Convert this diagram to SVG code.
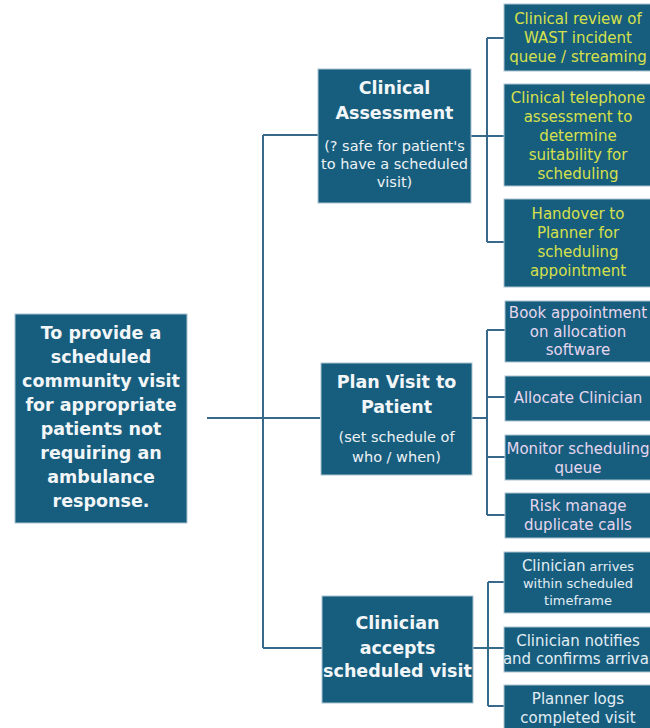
<svg xmlns="http://www.w3.org/2000/svg" width="650" height="728" viewBox="0 0 650 728">
<style>
.box{fill:#175e7e;stroke:#a9c3d3;stroke-width:1}
.ln{fill:none;stroke:#36698a;stroke-width:2}
text{font-family:"DejaVu Sans","Liberation Sans",sans-serif;text-anchor:middle}
.main{fill:#f3f6f8;font-weight:bold;font-size:17.5px}
.sub{fill:#eef2f5;font-size:14.5px}
.y{fill:#d6e04b;font-size:15px}
.p{fill:#e6d6ee;font-size:15px}
.w{fill:#e2edf4;font-size:15px}
.ws{fill:#e2edf4;font-size:13px}
</style>
<rect width="650" height="728" fill="#ffffff"/>
<g id="connectors">
<path class="ln" d="M207 418H320M263 135V648M263 135H318M263 648H322"/>
<path class="ln" d="M471 136H504M487 38V242M487 38H504M487 242H504"/>
<path class="ln" d="M472 418H487M487 330V515M487 330H505M487 397H505M487 457H505M487 515H505"/>
<path class="ln" d="M473 648H504M488 582V706M488 582H504M488 706H504"/>
</g>
<g id="root">
<rect class="box" x="15" y="314" width="172" height="209"/>
<text class="main"><tspan x="101" y="339">To provide a</tspan><tspan x="101" y="363">scheduled</tspan><tspan x="101" y="387">community visit</tspan><tspan x="101" y="411">for appropriate</tspan><tspan x="101" y="435">patients not</tspan><tspan x="101" y="459">requiring an</tspan><tspan x="101" y="483">ambulance</tspan><tspan x="101" y="507">response.</tspan></text>
</g>
<g id="clinical-assessment">
<rect class="box" x="318" y="69" width="153" height="134"/>
<text class="main"><tspan x="394.5" y="94">Clinical</tspan><tspan x="394.5" y="119">Assessment</tspan></text>
<text class="sub"><tspan x="394.5" y="151">(? safe for patient's</tspan><tspan x="394.5" y="169">to have a scheduled</tspan><tspan x="394.5" y="187">visit)</tspan></text>
</g>
<g id="plan-visit">
<rect class="box" x="321" y="363" width="151" height="112"/>
<text class="main"><tspan x="396.5" y="388">Plan Visit to</tspan><tspan x="396.5" y="413">Patient</tspan></text>
<text class="sub"><tspan x="396.5" y="442">(set schedule of</tspan><tspan x="396.5" y="462">who / when)</tspan></text>
</g>
<g id="clinician-accepts">
<rect class="box" x="322" y="596" width="151" height="107"/>
<text class="main"><tspan x="397.5" y="629">Clinician</tspan><tspan x="397.5" y="654">accepts</tspan><tspan x="397.5" y="677">scheduled visit</tspan></text>
</g>
<g id="clinical-review">
<rect class="box" x="504" y="4" width="156" height="67"/>
<text class="y"><tspan x="578" y="23.5">Clinical review of</tspan><tspan x="578" y="42.5">WAST incident</tspan><tspan x="578" y="61.5">queue / streaming</tspan></text>
</g>
<g id="telephone-assessment">
<rect class="box" x="504" y="84" width="156" height="102"/>
<text class="y"><tspan x="578" y="102.5">Clinical telephone</tspan><tspan x="578" y="122">assessment to</tspan><tspan x="578" y="141">determine</tspan><tspan x="578" y="160">suitability for</tspan><tspan x="578" y="179">scheduling</tspan></text>
</g>
<g id="handover">
<rect class="box" x="504" y="199" width="156" height="88"/>
<text class="y"><tspan x="578" y="218.5">Handover to</tspan><tspan x="578" y="237.5">Planner for</tspan><tspan x="578" y="257">scheduling</tspan><tspan x="578" y="276">appointment</tspan></text>
</g>
<g id="book-appointment">
<rect class="box" x="505" y="301" width="155" height="61"/>
<text class="p"><tspan x="578" y="317.5">Book appointment</tspan><tspan x="578" y="336.5">on allocation</tspan><tspan x="578" y="354.5">software</tspan></text>
</g>
<g id="allocate-clinician">
<rect class="box" x="505" y="376" width="155" height="45"/>
<text class="p"><tspan x="578" y="402.5">Allocate Clinician</tspan></text>
</g>
<g id="monitor-queue">
<rect class="box" x="505" y="435" width="155" height="45"/>
<text class="p"><tspan x="578" y="453.5">Monitor scheduling</tspan><tspan x="578" y="472.5">queue</tspan></text>
</g>
<g id="risk-manage">
<rect class="box" x="505" y="493" width="155" height="45"/>
<text class="p"><tspan x="578" y="510.5">Risk manage</tspan><tspan x="578" y="529.5">duplicate calls</tspan></text>
</g>
<g id="clinician-arrives">
<rect class="box" x="504" y="552" width="156" height="61"/>
<text class="ws"><tspan x="578" y="570.5"><tspan style="font-size:15px">Clinician</tspan> arrives</tspan><tspan x="578" y="588">within scheduled</tspan><tspan x="578" y="605">timeframe</tspan></text>
</g>
<g id="clinician-notifies">
<rect class="box" x="504" y="627" width="156" height="45"/>
<text class="w"><tspan x="578" y="645.5">Clinician notifies</tspan><tspan x="578" y="663.5">and confirms arrival</tspan></text>
</g>
<g id="planner-logs">
<rect class="box" x="504" y="685" width="156" height="50"/>
<text class="w"><tspan x="578" y="703.5">Planner logs</tspan><tspan x="578" y="723">completed visit</tspan></text>
</g>
</svg>
